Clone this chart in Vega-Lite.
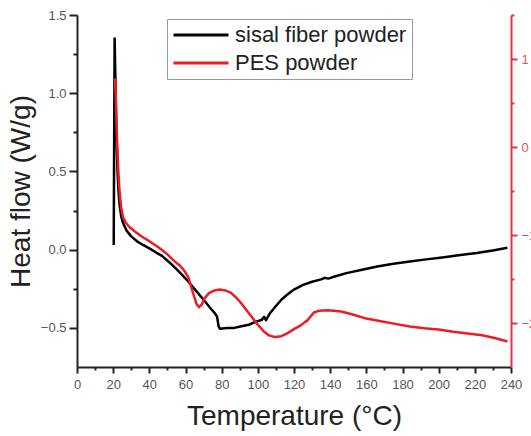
{
  "$schema": "https://vega.github.io/schema/vega-lite/v6.json",
  "width": 434,
  "height": 352,
  "autosize": {"type": "none"},
  "padding": {"left": 77, "top": 15, "right": 20, "bottom": 69},
  "background": "white",
  "config": {"font": "Liberation Sans", "view": {"stroke": null}},
  "data": {
    "values": [
      {"s": "sisal fiber powder", "T": 20.3, "v": 0.03},
      {"s": "sisal fiber powder", "T": 20.8, "v": 1.35},
      {"s": "sisal fiber powder", "T": 21.3, "v": 1.05},
      {"s": "sisal fiber powder", "T": 21.8, "v": 0.75},
      {"s": "sisal fiber powder", "T": 22.4, "v": 0.5},
      {"s": "sisal fiber powder", "T": 22.9, "v": 0.38},
      {"s": "sisal fiber powder", "T": 23.6, "v": 0.28},
      {"s": "sisal fiber powder", "T": 24.5, "v": 0.21},
      {"s": "sisal fiber powder", "T": 25.5, "v": 0.17},
      {"s": "sisal fiber powder", "T": 27.5, "v": 0.12},
      {"s": "sisal fiber powder", "T": 30, "v": 0.085},
      {"s": "sisal fiber powder", "T": 33, "v": 0.055},
      {"s": "sisal fiber powder", "T": 36.5, "v": 0.03},
      {"s": "sisal fiber powder", "T": 40.5, "v": 0.005},
      {"s": "sisal fiber powder", "T": 44, "v": -0.02},
      {"s": "sisal fiber powder", "T": 47, "v": -0.04},
      {"s": "sisal fiber powder", "T": 51, "v": -0.08},
      {"s": "sisal fiber powder", "T": 55, "v": -0.125},
      {"s": "sisal fiber powder", "T": 58, "v": -0.16},
      {"s": "sisal fiber powder", "T": 62, "v": -0.21},
      {"s": "sisal fiber powder", "T": 66, "v": -0.265},
      {"s": "sisal fiber powder", "T": 70, "v": -0.32},
      {"s": "sisal fiber powder", "T": 73.5, "v": -0.37},
      {"s": "sisal fiber powder", "T": 76.5, "v": -0.41},
      {"s": "sisal fiber powder", "T": 77.5, "v": -0.43},
      {"s": "sisal fiber powder", "T": 78.3, "v": -0.49},
      {"s": "sisal fiber powder", "T": 79, "v": -0.505},
      {"s": "sisal fiber powder", "T": 83, "v": -0.5},
      {"s": "sisal fiber powder", "T": 87, "v": -0.5},
      {"s": "sisal fiber powder", "T": 91, "v": -0.49},
      {"s": "sisal fiber powder", "T": 95, "v": -0.48},
      {"s": "sisal fiber powder", "T": 99, "v": -0.46},
      {"s": "sisal fiber powder", "T": 102, "v": -0.45},
      {"s": "sisal fiber powder", "T": 103.5, "v": -0.43},
      {"s": "sisal fiber powder", "T": 104.5, "v": -0.45},
      {"s": "sisal fiber powder", "T": 106.5, "v": -0.41},
      {"s": "sisal fiber powder", "T": 110, "v": -0.36},
      {"s": "sisal fiber powder", "T": 113, "v": -0.32},
      {"s": "sisal fiber powder", "T": 116, "v": -0.29},
      {"s": "sisal fiber powder", "T": 120, "v": -0.255},
      {"s": "sisal fiber powder", "T": 125, "v": -0.225},
      {"s": "sisal fiber powder", "T": 130, "v": -0.205},
      {"s": "sisal fiber powder", "T": 135, "v": -0.19},
      {"s": "sisal fiber powder", "T": 137, "v": -0.18},
      {"s": "sisal fiber powder", "T": 139, "v": -0.185},
      {"s": "sisal fiber powder", "T": 143, "v": -0.17},
      {"s": "sisal fiber powder", "T": 149, "v": -0.15},
      {"s": "sisal fiber powder", "T": 157, "v": -0.13},
      {"s": "sisal fiber powder", "T": 166, "v": -0.108},
      {"s": "sisal fiber powder", "T": 175, "v": -0.09},
      {"s": "sisal fiber powder", "T": 184, "v": -0.075},
      {"s": "sisal fiber powder", "T": 193, "v": -0.062},
      {"s": "sisal fiber powder", "T": 202, "v": -0.05},
      {"s": "sisal fiber powder", "T": 211, "v": -0.036},
      {"s": "sisal fiber powder", "T": 221, "v": -0.022},
      {"s": "sisal fiber powder", "T": 230, "v": -0.005},
      {"s": "sisal fiber powder", "T": 238, "v": 0.012},
      {"s": "PES powder", "T": 21.0, "v": 0.78},
      {"s": "PES powder", "T": 21.4, "v": 0.6},
      {"s": "PES powder", "T": 21.8, "v": 0.3},
      {"s": "PES powder", "T": 22.2, "v": 0.05},
      {"s": "PES powder", "T": 22.8, "v": -0.25},
      {"s": "PES powder", "T": 23.5, "v": -0.5},
      {"s": "PES powder", "T": 24.5, "v": -0.7},
      {"s": "PES powder", "T": 25.5, "v": -0.8},
      {"s": "PES powder", "T": 27, "v": -0.86},
      {"s": "PES powder", "T": 29, "v": -0.91},
      {"s": "PES powder", "T": 32, "v": -0.96},
      {"s": "PES powder", "T": 36, "v": -1.02},
      {"s": "PES powder", "T": 40, "v": -1.07},
      {"s": "PES powder", "T": 45, "v": -1.14},
      {"s": "PES powder", "T": 50, "v": -1.22},
      {"s": "PES powder", "T": 54, "v": -1.3},
      {"s": "PES powder", "T": 57, "v": -1.35},
      {"s": "PES powder", "T": 59.5, "v": -1.41},
      {"s": "PES powder", "T": 61.5, "v": -1.48},
      {"s": "PES powder", "T": 63, "v": -1.58},
      {"s": "PES powder", "T": 64.5, "v": -1.68},
      {"s": "PES powder", "T": 66, "v": -1.78},
      {"s": "PES powder", "T": 67.5, "v": -1.82},
      {"s": "PES powder", "T": 69, "v": -1.79},
      {"s": "PES powder", "T": 70.5, "v": -1.72},
      {"s": "PES powder", "T": 73, "v": -1.66},
      {"s": "PES powder", "T": 76, "v": -1.63},
      {"s": "PES powder", "T": 79, "v": -1.62},
      {"s": "PES powder", "T": 82, "v": -1.63},
      {"s": "PES powder", "T": 85, "v": -1.655},
      {"s": "PES powder", "T": 88, "v": -1.71},
      {"s": "PES powder", "T": 91, "v": -1.78},
      {"s": "PES powder", "T": 94, "v": -1.86},
      {"s": "PES powder", "T": 97, "v": -1.94},
      {"s": "PES powder", "T": 100, "v": -2.02},
      {"s": "PES powder", "T": 103, "v": -2.09},
      {"s": "PES powder", "T": 106, "v": -2.14},
      {"s": "PES powder", "T": 109.5, "v": -2.16},
      {"s": "PES powder", "T": 113, "v": -2.15},
      {"s": "PES powder", "T": 116, "v": -2.12},
      {"s": "PES powder", "T": 120, "v": -2.07},
      {"s": "PES powder", "T": 123.5, "v": -2.03},
      {"s": "PES powder", "T": 126, "v": -1.99},
      {"s": "PES powder", "T": 127.5, "v": -1.97},
      {"s": "PES powder", "T": 129, "v": -1.93},
      {"s": "PES powder", "T": 131, "v": -1.88},
      {"s": "PES powder", "T": 134, "v": -1.86},
      {"s": "PES powder", "T": 138, "v": -1.855},
      {"s": "PES powder", "T": 142, "v": -1.86},
      {"s": "PES powder", "T": 146, "v": -1.87},
      {"s": "PES powder", "T": 152, "v": -1.9},
      {"s": "PES powder", "T": 160, "v": -1.95},
      {"s": "PES powder", "T": 168, "v": -1.98},
      {"s": "PES powder", "T": 176, "v": -2.01},
      {"s": "PES powder", "T": 184, "v": -2.04},
      {"s": "PES powder", "T": 192, "v": -2.06},
      {"s": "PES powder", "T": 200, "v": -2.075},
      {"s": "PES powder", "T": 208, "v": -2.1},
      {"s": "PES powder", "T": 216, "v": -2.12},
      {"s": "PES powder", "T": 224, "v": -2.14},
      {"s": "PES powder", "T": 231, "v": -2.17},
      {"s": "PES powder", "T": 238, "v": -2.21}
    ]
  },
  "encoding": {
    "x": {
      "field": "T",
      "type": "quantitative",
      "scale": {"domain": [0, 240], "nice": false, "zero": false},
      "axis": {
        "title": "Temperature (°C)",
        "values": [0, 10, 20, 30, 40, 50, 60, 70, 80, 90, 100, 110, 120, 130, 140, 150, 160, 170, 180, 190, 200, 210, 220, 230, 240],
        "labelExpr": "datum.value % 20 === 0 ? datum.label : ''",
        "tickSize": {"condition": {"test": "datum.value % 20 === 0", "value": 6}, "value": 3},
        "grid": false,
        "domainColor": "#222",
        "domainWidth": 2,
        "tickColor": "#222",
        "tickWidth": 2,
        "labelColor": "#555",
        "labelFontSize": 13,
        "labelPadding": 5,
        "labelFlush": false,
        "labelOverlap": false,
        "titleFontSize": 28,
        "titleFontWeight": "normal",
        "titleColor": "#222",
        "titlePadding": 11
      }
    },
    "color": {
      "field": "s",
      "type": "nominal",
      "scale": {"domain": ["sisal fiber powder", "PES powder"], "range": ["#000000", "#ec1c24"]},
      "legend": {
        "orient": "none",
        "legendX": 90,
        "legendY": 4,
        "title": null,
        "symbolType": "stroke",
        "symbolSize": 3025,
        "symbolStrokeWidth": 3,
        "clipHeight": 22,
        "rowPadding": 6,
        "padding": 5,
        "labelOffset": 5,
        "labelLimit": 400,
        "labelFontSize": 22,
        "labelColor": "#222",
        "strokeColor": "#999",
        "fillColor": "#ffffff"
      }
    }
  },
  "layer": [
    {
      "transform": [{"filter": "datum.s === 'sisal fiber powder'"}],
      "mark": {"type": "line", "strokeWidth": 2.5, "strokeJoin": "round"},
      "encoding": {
        "y": {
          "field": "v",
          "type": "quantitative",
          "scale": {"domain": [-0.75, 1.5], "nice": false, "zero": false},
          "axis": {
            "title": "Heat flow (W/g)",
            "orient": "left",
            "values": [-0.5, -0.25, 0, 0.25, 0.5, 0.75, 1, 1.25, 1.5],
            "labelExpr": "abs(datum.value * 2 - round(datum.value * 2)) < 0.01 ? format(datum.value, '.1f') : ''",
            "tickSize": {"condition": {"test": "abs(datum.value * 2 - round(datum.value * 2)) < 0.01", "value": 8}, "value": 4},
            "grid": false,
            "domainColor": "#222",
            "domainWidth": 2,
            "tickColor": "#222",
            "tickWidth": 2,
            "labelColor": "#555",
            "labelFontSize": 13,
            "labelPadding": 3,
            "labelOverlap": false,
            "titleFontSize": 28,
            "titleFontWeight": "normal",
            "titleColor": "#222",
            "titlePadding": 5
          }
        }
      }
    },
    {
      "transform": [{"filter": "datum.s === 'PES powder'"}],
      "mark": {"type": "line", "strokeWidth": 2.5, "strokeJoin": "round"},
      "encoding": {
        "y": {
          "field": "v",
          "type": "quantitative",
          "scale": {"domain": [-2.5, 1.5], "nice": false, "zero": false},
          "axis": {
            "title": null,
            "orient": "right",
            "values": [-2, -1.5, -1, -0.5, 0, 0.5, 1, 1.5],
            "labelExpr": "datum.value % 1 === 0 ? format(datum.value, 'd') : ''",
            "tickSize": {"condition": {"test": "datum.value % 1 === 0", "value": 6}, "value": 3},
            "grid": false,
            "domainColor": "#e8304a",
            "domainWidth": 2,
            "tickColor": "#e8304a",
            "tickWidth": 2,
            "labelColor": "#e8506a",
            "labelFontSize": 13,
            "labelPadding": 4,
            "labelOverlap": false
          }
        }
      }
    }
  ],
  "resolve": {"scale": {"y": "independent"}}
}
